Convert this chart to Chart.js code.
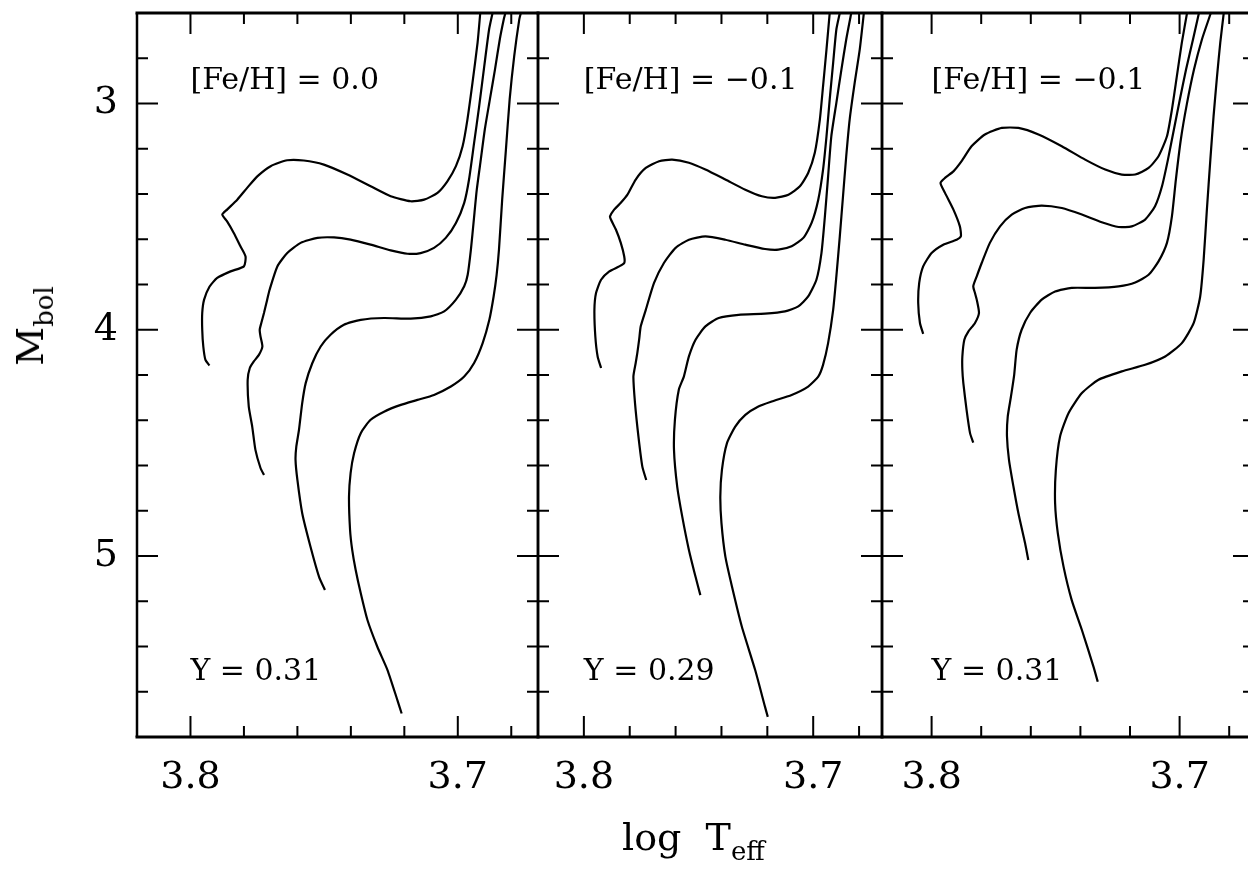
<!DOCTYPE html>
<html><head><meta charset="utf-8">
<script src="https://cdn.jsdelivr.net/npm/chart.js@4.4.1/dist/chart.umd.min.js"></script>
<style>
html,body{margin:0;padding:0;background:#fff;width:1248px;height:869px;overflow:hidden;position:relative;}
canvas{position:absolute;top:0;}
.ttl{position:absolute;font-family:"DejaVu Serif";color:#000;white-space:nowrap;font-size:38px;line-height:38px;}
.ttl .sub{font-size:26px;position:relative;top:10px;}
</style></head><body>
<canvas id="c1" width="550" height="869" style="left:0px"></canvas>
<canvas id="c2" width="368" height="869" style="left:526px"></canvas>
<canvas id="c3" width="396" height="869" style="left:870px"></canvas>
<div class="ttl" id="xt" style="left:622px;top:818px">log&nbsp;&nbsp;T<span class="sub">eff</span></div>
<div class="ttl" id="yt" style="left:32px;top:326px;transform:translate(-50%,-50%) rotate(-90deg);">M<span class="sub">bol</span></div>
<script>
// ---- axis ranges and ticks ----
const xRange = [3.67, 3.82];
const yRange = [2.6, 5.8];
const xTickLabels = [3.8, 3.7];
const yTickLabels = [3, 4, 5];
const xMinorTicks = [3.68, 3.70, 3.72, 3.74, 3.76, 3.78, 3.80];
const yMinorTicks = [2.8, 3.0, 3.2, 3.4, 3.6, 3.8, 4.0, 4.2, 4.4, 4.6, 4.8, 5.0, 5.2, 5.4, 5.6];
const panelFeH = ['[Fe/H] = 0.0', '[Fe/H] = \u22120.1', '[Fe/H] = \u22120.1'];
const panelY = ['Y = 0.31', 'Y = 0.29', 'Y = 0.31'];

// ---- isochrones: [log Teff, Mbol] ----
const p1Iso1 = [[3.7929,4.158],[3.7944,4.133],[3.7952,4.074],[3.7956,4.000],[3.7956,3.926],[3.7949,3.867],[3.7929,3.810],[3.7900,3.771],[3.7850,3.742],[3.7800,3.720],[3.7794,3.676],[3.7813,3.631],[3.7838,3.572],[3.7863,3.521],[3.7881,3.491],[3.7863,3.469],[3.7825,3.425],[3.7788,3.373],[3.7750,3.322],[3.7700,3.277],[3.7638,3.251],[3.7576,3.252],[3.7501,3.270],[3.7413,3.314],[3.7326,3.366],[3.7251,3.410],[3.7176,3.432],[3.7126,3.425],[3.7076,3.395],[3.7039,3.344],[3.7007,3.277],[3.6982,3.189],[3.6964,3.071],[3.6945,2.908],[3.6926,2.731],[3.6916,2.600]];
const p1Iso2 = [[3.7725,4.642],[3.7738,4.611],[3.7757,4.531],[3.7769,4.428],[3.7782,4.339],[3.7786,4.221],[3.7778,4.169],[3.7763,4.140],[3.7744,4.111],[3.7731,4.074],[3.7738,4.030],[3.7741,4.000],[3.7735,3.970],[3.7725,3.926],[3.7713,3.867],[3.7704,3.823],[3.7675,3.720],[3.7638,3.661],[3.7588,3.616],[3.7525,3.594],[3.7463,3.592],[3.7401,3.602],[3.7326,3.624],[3.7251,3.649],[3.7188,3.664],[3.7139,3.661],[3.7089,3.638],[3.7045,3.594],[3.7007,3.528],[3.6976,3.439],[3.6958,3.336],[3.6939,3.174],[3.6920,3.012],[3.6901,2.835],[3.6883,2.673],[3.6870,2.600]];
const p1Iso3 = [[3.7497,5.150],[3.7519,5.092],[3.7551,4.959],[3.7582,4.811],[3.7600,4.664],[3.7607,4.575],[3.7604,4.516],[3.7594,4.442],[3.7582,4.324],[3.7569,4.236],[3.7544,4.147],[3.7513,4.074],[3.7476,4.022],[3.7426,3.978],[3.7363,3.956],[3.7276,3.948],[3.7176,3.951],[3.7101,3.941],[3.7051,3.919],[3.7007,3.867],[3.6976,3.808],[3.6963,3.757],[3.6951,3.646],[3.6940,3.513],[3.6929,3.381],[3.6914,3.248],[3.6899,3.115],[3.6880,2.982],[3.6861,2.850],[3.6843,2.717],[3.6828,2.628],[3.6822,2.600]];
const p1Iso4 = [[3.7210,5.696],[3.7226,5.637],[3.7263,5.504],[3.7301,5.401],[3.7338,5.283],[3.7363,5.165],[3.7382,5.062],[3.7395,4.973],[3.7403,4.885],[3.7407,4.738],[3.7401,4.634],[3.7388,4.546],[3.7363,4.457],[3.7326,4.398],[3.7276,4.362],[3.7213,4.332],[3.7151,4.310],[3.7089,4.288],[3.7026,4.251],[3.6976,4.207],[3.6939,4.147],[3.6907,4.059],[3.6882,3.956],[3.6866,3.853],[3.6855,3.760],[3.6846,3.646],[3.6834,3.425],[3.6820,3.204],[3.6806,2.982],[3.6789,2.791],[3.6770,2.628],[3.6764,2.600]];

const p2Iso1 = [[3.7925,4.169],[3.7940,4.118],[3.7950,4.030],[3.7954,3.912],[3.7947,3.838],[3.7925,3.779],[3.7889,3.742],[3.7846,3.720],[3.7824,3.705],[3.7824,3.676],[3.7839,3.616],[3.7860,3.558],[3.7882,3.513],[3.7886,3.499],[3.7868,3.469],[3.7839,3.439],[3.7810,3.403],[3.7774,3.336],[3.7730,3.285],[3.7672,3.255],[3.7615,3.248],[3.7542,3.262],[3.7470,3.292],[3.7383,3.336],[3.7296,3.381],[3.7224,3.410],[3.7166,3.417],[3.7108,3.403],[3.7058,3.366],[3.7022,3.307],[3.6993,3.218],[3.6971,3.071],[3.6957,2.923],[3.6942,2.761],[3.6928,2.600]];
const p2Iso2 = [[3.7728,4.664],[3.7745,4.605],[3.7762,4.472],[3.7777,4.324],[3.7784,4.207],[3.7774,4.147],[3.7767,4.103],[3.7759,4.044],[3.7752,3.985],[3.7730,3.912],[3.7694,3.793],[3.7651,3.705],[3.7600,3.638],[3.7542,3.602],[3.7470,3.587],[3.7383,3.602],[3.7296,3.624],[3.7210,3.643],[3.7152,3.646],[3.7094,3.631],[3.7043,3.594],[3.7007,3.528],[3.6978,3.425],[3.6957,3.292],[3.6942,3.145],[3.6928,2.982],[3.6913,2.820],[3.6899,2.673],[3.6884,2.600]];
const p2Iso3 = [[3.7492,5.173],[3.7513,5.092],[3.7542,4.973],[3.7571,4.826],[3.7593,4.693],[3.7607,4.531],[3.7603,4.398],[3.7586,4.265],[3.7564,4.207],[3.7542,4.118],[3.7513,4.044],[3.7470,3.985],[3.7412,3.948],[3.7325,3.934],[3.7210,3.929],[3.7123,3.919],[3.7065,3.897],[3.7022,3.853],[3.6986,3.779],[3.6964,3.661],[3.6949,3.499],[3.6935,3.322],[3.6921,3.145],[3.6899,2.997],[3.6877,2.850],[3.6856,2.717],[3.6834,2.600]];
const p2Iso4 = [[3.7198,5.711],[3.7210,5.667],[3.7253,5.504],[3.7311,5.313],[3.7354,5.136],[3.7383,5.003],[3.7400,4.855],[3.7405,4.737],[3.7398,4.619],[3.7376,4.501],[3.7340,4.428],[3.7296,4.376],[3.7239,4.339],[3.7181,4.317],[3.7094,4.288],[3.7022,4.251],[3.6978,4.207],[3.6957,4.155],[3.6935,4.059],[3.6913,3.912],[3.6899,3.764],[3.6884,3.587],[3.6870,3.410],[3.6856,3.233],[3.6841,3.071],[3.6819,2.908],[3.6797,2.761],[3.6779,2.600]];

const p3Iso1 = [[3.8034,4.018],[3.8047,3.970],[3.8054,3.882],[3.8050,3.793],[3.8034,3.720],[3.8000,3.661],[3.7953,3.624],[3.7899,3.602],[3.7882,3.587],[3.7886,3.543],[3.7912,3.469],[3.7946,3.395],[3.7964,3.351],[3.7946,3.329],[3.7912,3.300],[3.7879,3.255],[3.7839,3.189],[3.7785,3.137],[3.7717,3.108],[3.7650,3.108],[3.7569,3.137],[3.7475,3.189],[3.7381,3.248],[3.7300,3.292],[3.7233,3.314],[3.7179,3.314],[3.7125,3.285],[3.7085,3.233],[3.7051,3.145],[3.7031,3.027],[3.7011,2.879],[3.6991,2.731],[3.6970,2.600]];
const p3Iso2 = [[3.7832,4.499],[3.7845,4.457],[3.7859,4.354],[3.7872,4.236],[3.7876,4.177],[3.7876,4.118],[3.7868,4.044],[3.7852,4.008],[3.7825,3.970],[3.7809,3.926],[3.7818,3.867],[3.7825,3.838],[3.7832,3.808],[3.7818,3.764],[3.7798,3.705],[3.7765,3.616],[3.7724,3.543],[3.7677,3.491],[3.7623,3.462],[3.7556,3.451],[3.7475,3.462],[3.7394,3.491],[3.7314,3.525],[3.7246,3.546],[3.7193,3.543],[3.7139,3.513],[3.7099,3.454],[3.7071,3.366],[3.7047,3.248],[3.7023,3.115],[3.6999,2.982],[3.6974,2.850],[3.6946,2.717],[3.6922,2.600]];
const p3Iso3 = [[3.7610,5.018],[3.7623,4.944],[3.7650,4.811],[3.7670,4.693],[3.7688,4.575],[3.7696,4.472],[3.7693,4.384],[3.7680,4.295],[3.7667,4.199],[3.7657,4.088],[3.7637,4.000],[3.7603,3.926],[3.7556,3.867],[3.7502,3.831],[3.7435,3.815],[3.7341,3.815],[3.7246,3.808],[3.7179,3.791],[3.7125,3.757],[3.7085,3.698],[3.7051,3.616],[3.7031,3.499],[3.7015,3.336],[3.6995,3.159],[3.6971,3.004],[3.6942,2.850],[3.6910,2.717],[3.6874,2.600]];
const p3Iso4 = [[3.7330,5.556],[3.7347,5.490],[3.7394,5.327],[3.7435,5.195],[3.7468,5.047],[3.7491,4.900],[3.7502,4.767],[3.7499,4.619],[3.7482,4.472],[3.7448,4.369],[3.7394,4.280],[3.7327,4.221],[3.7233,4.184],[3.7139,4.155],[3.7058,4.118],[3.6991,4.059],[3.6943,3.970],[3.6917,3.853],[3.6903,3.690],[3.6890,3.469],[3.6876,3.248],[3.6863,3.056],[3.6849,2.879],[3.6836,2.731],[3.6822,2.600]];

const isMajor = (list, v) => list.some(t => Math.abs(t - v) < 1e-6);

const framePlugin = {
  id: 'frame',
  afterDatasetsDraw(chart, args, o) {
    const {ctx, chartArea: a, scales: {x, y}} = chart;
    ctx.save();
    ctx.strokeStyle = '#000';
    ctx.lineWidth = 2;
    ctx.beginPath();
    xMinorTicks.forEach(v => {
      const px = x.getPixelForValue(v);
      const L = isMajor(xTickLabels, v) ? 21 : 11;
      ctx.moveTo(px, a.top); ctx.lineTo(px, a.top + L);
      ctx.moveTo(px, a.bottom); ctx.lineTo(px, a.bottom - L);
    });
    yMinorTicks.forEach(v => {
      const py = y.getPixelForValue(v);
      const L = isMajor(yTickLabels, v) ? 21 : 11;
      ctx.moveTo(a.left, py); ctx.lineTo(a.left + L, py);
      ctx.moveTo(a.right, py); ctx.lineTo(a.right - L, py);
    });
    ctx.stroke();
    ctx.lineWidth = 2.5;
    ctx.beginPath();
    ctx.moveTo(a.left, a.top); ctx.lineTo(a.left, a.bottom);
    ctx.moveTo(a.right, a.top); ctx.lineTo(a.right, a.bottom);
    ctx.stroke();
    ctx.lineWidth = 3;
    ctx.beginPath();
    ctx.moveTo(a.left - 1.5, a.top); ctx.lineTo(a.right + 1.5, a.top);
    ctx.moveTo(a.left - 1.5, a.bottom); ctx.lineTo(a.right + 1.5, a.bottom);
    ctx.stroke();
    ctx.fillStyle = '#000';
    ctx.font = '30px "DejaVu Serif"';
    ctx.textAlign = 'left';
    ctx.textBaseline = 'alphabetic';
    ctx.fillText(o.feh, x.getPixelForValue(3.8), y.getPixelForValue(2.938));
    ctx.fillText(o.yhe, x.getPixelForValue(3.8), y.getPixelForValue(5.549));
    ctx.restore();
  }
};

Chart.defaults.font.family = '"DejaVu Serif"';

function panel(id, isos, idx, showY) {
  return new Chart(document.getElementById(id), {
    type: 'scatter',
    data: {
      datasets: isos.map(iso => ({
        data: iso.map(p => ({x: p[0], y: p[1]})),
        showLine: true, borderColor: '#000', borderWidth: 2.2, pointRadius: 0,
        tension: 0.2, fill: false, clip: 0
      }))
    },
    options: {
      responsive: false, animation: false, devicePixelRatio: 1,
      layout: {padding: {left: showY ? 0 : 12, right: 12, top: 13, bottom: 0}, autoPadding: false},
      plugins: {legend: {display: false}, tooltip: {enabled: false},
        frame: {feh: panelFeH[idx], yhe: panelY[idx]}},
      scales: {
        x: {
          type: 'linear', reverse: true, min: xRange[0], max: xRange[1],
          grid: {display: false}, border: {display: false},
          ticks: {font: {size: 38}, color: '#000', padding: 10, maxRotation: 0, autoSkip: false,
            callback: v => Number(v).toFixed(1)},
          afterBuildTicks: s => { s.ticks = xTickLabels.map(v => ({value: v})); },
          afterFit: s => { s.height = 132; s.paddingLeft = 0; s.paddingRight = 0; }
        },
        y: {
          type: 'linear', reverse: true, min: yRange[0], max: yRange[1], display: showY,
          grid: {display: false}, border: {display: false},
          ticks: {font: {size: 38}, color: '#000', padding: 11, autoSkip: false,
            callback: v => String(v)},
          afterBuildTicks: s => { s.ticks = yTickLabels.map(v => ({value: v})); },
          afterFit: s => { s.width = showY ? 137 : 0; s.paddingTop = 0; s.paddingBottom = 0; }
        }
      }
    },
    plugins: [framePlugin]
  });
}

panel('c1', [p1Iso1, p1Iso2, p1Iso3, p1Iso4], 0, true);
panel('c2', [p2Iso1, p2Iso2, p2Iso3, p2Iso4], 1, false);
panel('c3', [p3Iso1, p3Iso2, p3Iso3, p3Iso4], 2, false);
</script>
</body></html>
